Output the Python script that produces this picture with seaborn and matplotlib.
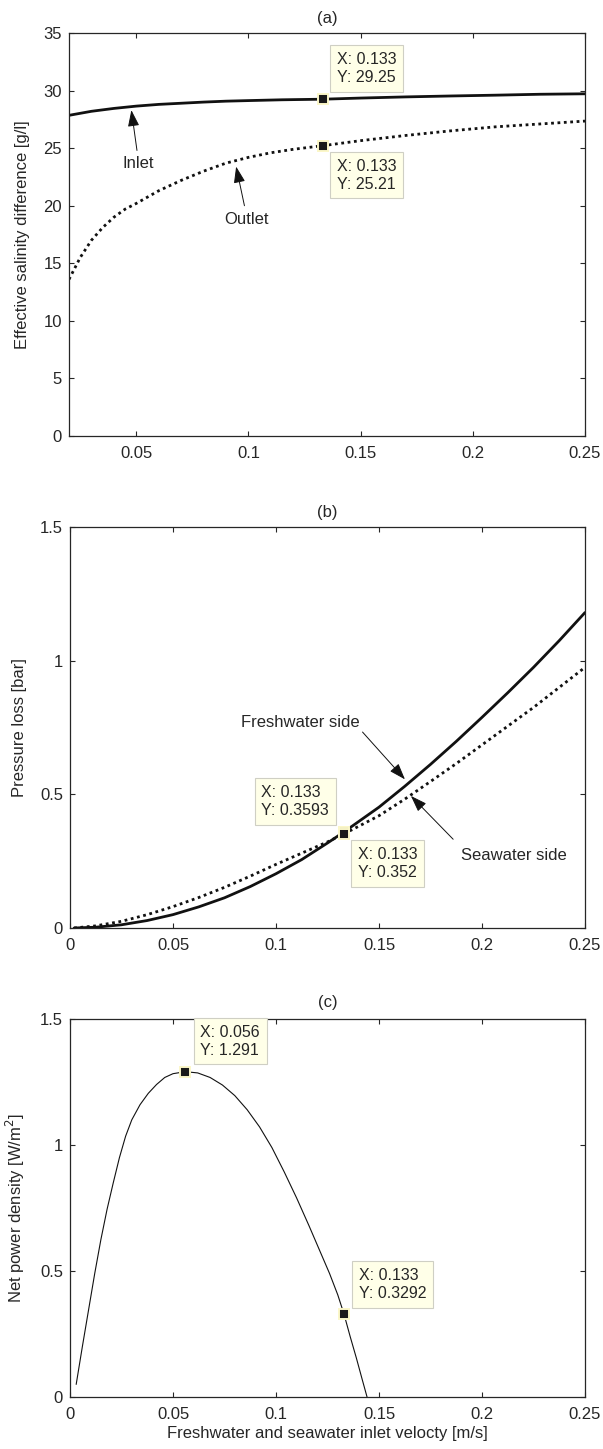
import matplotlib
matplotlib.use("Agg")
import matplotlib.pyplot as plt
import pandas as pd
import seaborn as sns
from matplotlib.ticker import FormatStrFormatter

# ---- (a) effective salinity difference [g/l] ----
velocity_inlet = [0.02, 0.03, 0.04, 0.05, 0.06, 0.07, 0.08, 0.09, 0.10, 0.115,
                  0.133, 0.15, 0.17, 0.19, 0.21, 0.23, 0.25]
salinity_inlet = [27.85, 28.2, 28.45, 28.65, 28.8, 28.9, 29.0, 29.08, 29.13, 29.2,
                  29.25, 29.35, 29.45, 29.53, 29.6, 29.68, 29.72]
velocity_outlet = [0.02, 0.025, 0.03, 0.035, 0.04, 0.045, 0.05, 0.06, 0.07, 0.08,
                   0.09, 0.10, 0.11, 0.12, 0.133, 0.15, 0.17, 0.19, 0.21, 0.23, 0.25]
salinity_outlet = [13.6, 15.5, 17.0, 18.1, 19.0, 19.7, 20.2, 21.3, 22.2, 23.0,
                   23.7, 24.2, 24.6, 24.9, 25.21, 25.65, 26.1, 26.5, 26.85, 27.1, 27.35]

# ---- (b) pressure loss [bar] ----
velocity_b = [0.002, 0.0125, 0.025, 0.0375, 0.05, 0.0625, 0.075, 0.0875, 0.10, 0.1125,
              0.125, 0.133, 0.15, 0.1625, 0.175, 0.1875, 0.20, 0.2125, 0.225, 0.2375, 0.25]
loss_freshwater = [0.0, 0.003, 0.012, 0.028, 0.05, 0.079, 0.113, 0.155, 0.203, 0.256,
                   0.318, 0.3593, 0.452, 0.53, 0.612, 0.698, 0.788, 0.88, 0.975, 1.075, 1.18]
loss_seawater = [0.0, 0.008, 0.025, 0.05, 0.08, 0.114, 0.152, 0.194, 0.238, 0.28,
                 0.322, 0.352, 0.42, 0.482, 0.548, 0.615, 0.685, 0.755, 0.825, 0.90, 0.975]

# ---- (c) net power density [W/m^2] ----
velocity_c = [0.003, 0.006, 0.009, 0.012, 0.015, 0.018, 0.021, 0.024, 0.027, 0.030,
              0.034, 0.038, 0.042, 0.046, 0.050, 0.056, 0.062, 0.068, 0.074, 0.080,
              0.086, 0.092, 0.098, 0.104, 0.110, 0.116, 0.121, 0.126, 0.130, 0.133,
              0.136, 0.139, 0.142, 0.1442]
power_density = [0.05, 0.20, 0.345, 0.49, 0.625, 0.745, 0.85, 0.95, 1.035, 1.10,
                 1.16, 1.205, 1.24, 1.268, 1.283, 1.291, 1.286, 1.268, 1.238, 1.196,
                 1.14, 1.072, 0.99, 0.893, 0.79, 0.68, 0.585, 0.49, 0.405, 0.3292,
                 0.24, 0.155, 0.065, 0.0]

# ---- data tips ----
tips_a_x = [0.133, 0.133]
tips_a_y = [29.25, 25.21]
tips_b_x = [0.133, 0.133]
tips_b_y = [0.3593, 0.352]
tips_c_x = [0.056, 0.133]
tips_c_y = [1.291, 0.3292]

sns.set_style("ticks")
plt.rcParams["font.family"] = ["Liberation Sans", "DejaVu Sans"]
INK = "#262626"
FS = 12
TIP_FS = 11.5

fig = plt.figure(figsize=(6.03, 14.49), dpi=100)
W, H = 603.0, 1449.0


def make_axes(left, right, top, bottom):
    return fig.add_axes([left / W, 1 - bottom / H, (right - left) / W, (bottom - top) / H])


ax_a = make_axes(69, 585, 33, 436)
ax_b = make_axes(70, 585, 527, 928)
ax_c = make_axes(70, 585, 1019, 1397)


def style(ax):
    for sp in ax.spines.values():
        sp.set_visible(True)
        sp.set_color(INK)
        sp.set_linewidth(0.9)
    ax.tick_params(direction="in", length=3.5, width=0.8, top=True, right=True,
                   labelsize=FS, colors=INK, labelcolor=INK)
    ax.tick_params(axis="x", pad=7)
    ax.tick_params(axis="y", pad=5)
    ax.xaxis.set_major_formatter(FormatStrFormatter("%g"))
    ax.yaxis.set_major_formatter(FormatStrFormatter("%g"))
    ax.set_xlabel("")
    ax.set_ylabel("")


def datatip(ax, x, y, dx, dy, ha, va):
    ax.plot([x], [y], ls="none", marker="s", ms=7.5, mfc="#1a1a1a",
            mec="#fbf7c8", mew=1.4, zorder=6, clip_on=False)
    ax.annotate(f"X: {x:g}\nY: {y:g}", (x, y), xytext=(dx, dy),
                textcoords="offset pixels", ha=ha, va=va, multialignment="left",
                fontsize=TIP_FS, color=INK, linespacing=1.25, zorder=7,
                bbox=dict(boxstyle="square,pad=0.42", fc="#ffffe8", ec="#cfcfc4", lw=0.8))


def arrow(ax, tail, tip):
    ax.annotate("", xy=tip, xytext=tail,
                arrowprops=dict(arrowstyle="-|>,head_length=1.0,head_width=0.35",
                                color="#111111", lw=0.7, shrinkA=0, shrinkB=0))


# (a)
df_in = pd.DataFrame({"v": velocity_inlet, "s": salinity_inlet})
df_out = pd.DataFrame({"v": velocity_outlet, "s": salinity_outlet})
sns.lineplot(data=df_in, x="v", y="s", ax=ax_a, color="#111111", lw=2.0)
sns.lineplot(data=df_out, x="v", y="s", ax=ax_a, color="#111111", lw=2.0,
             linestyle=(0, (1, 1.3)))
style(ax_a)
ax_a.set_xlim(0.02, 0.25)
ax_a.set_ylim(0, 35)
ax_a.set_xticks([0.05, 0.1, 0.15, 0.2, 0.25])
ax_a.set_yticks(range(0, 36, 5))
ax_a.set_title("(a)", fontsize=FS, color=INK, pad=7)
ax_a.set_ylabel("Effective salinity difference [g/l]", fontsize=FS, color=INK)
ax_a.yaxis.set_label_coords(-0.076, 0.5)
ax_a.text(0.051, 23.7, "Inlet", ha="center", va="center", fontsize=FS, color=INK)
arrow(ax_a, (0.0503, 24.8), (0.0478, 28.3))
ax_a.text(0.099, 18.8, "Outlet", ha="center", va="center", fontsize=FS, color=INK)
arrow(ax_a, (0.0982, 20.0), (0.0945, 23.4))
datatip(ax_a, tips_a_x[0], tips_a_y[0], 14, 14, "left", "bottom")
datatip(ax_a, tips_a_x[1], tips_a_y[1], 14, -13, "left", "top")

# (b)
df_b = pd.DataFrame({"v": velocity_b, "fw": loss_freshwater, "sw": loss_seawater})
sns.lineplot(data=df_b, x="v", y="fw", ax=ax_b, color="#111111", lw=2.0)
sns.lineplot(data=df_b, x="v", y="sw", ax=ax_b, color="#111111", lw=2.0,
             linestyle=(0, (1, 1.3)))
style(ax_b)
ax_b.set_xlim(0, 0.25)
ax_b.set_ylim(0, 1.5)
ax_b.set_xticks([0, 0.05, 0.1, 0.15, 0.2, 0.25])
ax_b.set_yticks([0, 0.5, 1, 1.5])
ax_b.set_title("(b)", fontsize=FS, color=INK, pad=7)
ax_b.set_ylabel("Pressure loss [bar]", fontsize=FS, color=INK)
ax_b.yaxis.set_label_coords(-0.083, 0.5)
ax_b.text(0.112, 0.767, "Freshwater side", ha="center", va="center", fontsize=FS, color=INK)
arrow(ax_b, (0.142, 0.733), (0.1626, 0.556))
ax_b.text(0.2153, 0.273, "Seawater side", ha="center", va="center", fontsize=FS, color=INK)
arrow(ax_b, (0.186, 0.332), (0.1655, 0.494))
datatip(ax_b, tips_b_x[0], tips_b_y[0], -15, 14, "right", "bottom")
datatip(ax_b, tips_b_x[1], tips_b_y[1], 14, -13, "left", "top")

# (c)
df_c = pd.DataFrame({"v": velocity_c, "p": power_density})
sns.lineplot(data=df_c, x="v", y="p", ax=ax_c, color="#111111", lw=0.8)
style(ax_c)
ax_c.set_xlim(0, 0.25)
ax_c.set_ylim(0, 1.5)
ax_c.set_xticks([0, 0.05, 0.1, 0.15, 0.2, 0.25])
ax_c.set_yticks([0, 0.5, 1, 1.5])
ax_c.set_title("(c)", fontsize=FS, color=INK, pad=8.5)
ax_c.set_ylabel("Net power density [W/m$^2$]", fontsize=FS, color=INK)
ax_c.yaxis.set_label_coords(-0.083, 0.5)
ax_c.set_xlabel("Freshwater and seawater inlet velocty [m/s]", fontsize=FS, color=INK)
ax_c.xaxis.set_label_coords(0.5, -0.076)
ax_c.xaxis.label.set_va("top")
datatip(ax_c, tips_c_x[0], tips_c_y[0], 15, 14, "left", "bottom")
datatip(ax_c, tips_c_x[1], tips_c_y[1], 15, 13, "left", "bottom")

fig.savefig("out.png", dpi=100)
